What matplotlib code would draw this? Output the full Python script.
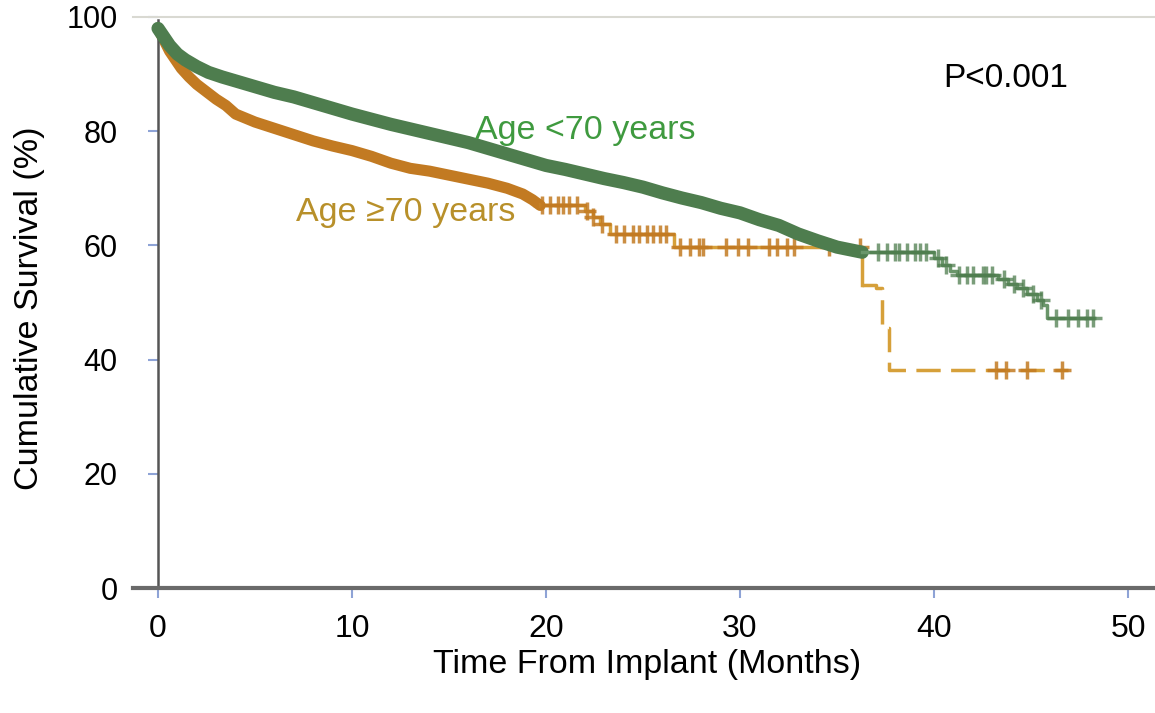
import matplotlib
matplotlib.use('Agg')
import matplotlib.pyplot as plt
import numpy as np

plt.rcParams['font.family'] = ['Liberation Sans', 'DejaVu Sans']

# ---- data ----
# Age <70 years
young_t = [0, 0.3, 0.6, 1.0, 1.4, 2.0, 2.6, 3.3, 4.0, 5.0, 6.0, 7.0, 8.0, 9.0, 10.0,
           11.0, 12.0, 13.0, 14.0, 15.0, 16.0, 17.0, 18.0, 19.0, 20.0, 21.0, 22.0,
           23.0, 24.0, 25.0, 26.0, 27.0, 28.0, 29.0, 30.0, 31.0, 32.0, 33.0, 34.0,
           35.0, 36.3, 40.0, 40.4, 40.8, 41.2, 43.3, 43.8, 44.3, 44.8, 45.3, 45.6,
           45.8, 48.2]
young_s = [98, 96.5, 95, 93.5, 92.5, 91.3, 90.3, 89.5, 88.8, 87.8, 86.8, 86.0, 85.0,
           84.0, 83.0, 82.1, 81.2, 80.4, 79.6, 78.8, 78.0, 77.0, 76.0, 75.0, 74.0,
           73.3, 72.5, 71.7, 71.0, 70.2, 69.2, 68.3, 67.5, 66.5, 65.7, 64.5, 63.5,
           62.0, 60.8, 59.7, 58.8, 57.8, 56.5, 55.5, 54.8, 54.2, 53.2, 52.5, 51.5,
           50.5, 49.5, 47.3, 47.3]
young_censor = [37.1, 37.6, 38.0, 38.2, 38.6, 39.0, 39.3, 39.6, 40.2, 40.6, 41.3,
                41.7, 42.0, 42.5, 42.7, 43.0, 43.6, 44.1, 44.6, 45.1, 45.5, 46.3,
                46.9, 47.4, 47.9, 48.2]

# Age >=70 years
old_t = [0, 0.3, 0.6, 0.9, 1.2, 1.6, 2.0, 2.5, 3.0, 3.5, 4.0, 5.0, 6.0, 7.0, 8.0,
         9.0, 10.0, 11.0, 12.0, 13.0, 14.0, 15.0, 16.0, 17.0, 18.0, 18.8, 19.3,
         19.7, 22.0, 22.4, 22.8, 23.3, 26.6, 36.3, 37.0, 37.3, 37.7, 46.9]
old_s = [98, 96, 94, 92.5, 91, 89.5, 88.2, 86.9, 85.6, 84.5, 83, 81.6, 80.5, 79.4,
         78.3, 77.4, 76.6, 75.6, 74.4, 73.5, 73.0, 72.3, 71.6, 70.9, 70.0, 69.0,
         68.0, 67.0, 66.0, 65.0, 63.8, 62.0, 59.7, 53.0, 52.5, 45.5, 38.2, 38.2]
old_censor = [19.8, 20.2, 20.6, 20.9, 21.2, 21.6, 22.1, 22.4, 22.9, 23.6, 24.0,
              24.5, 24.8, 25.2, 25.5, 25.9, 26.2, 26.9, 27.4, 27.9, 28.1, 29.3,
              29.9, 30.4, 31.5, 31.9, 32.4, 32.8, 34.6, 36.2, 43.2, 43.7, 44.8, 46.6]

x_ticks = [0, 10, 20, 30, 40, 50]
y_ticks = [0, 20, 40, 60, 80, 100]

# ---- styles ----
GREEN = '#4e7d4e'
GREEN_M = '#6a966a'
ORANGE = '#c27a22'
GOLD = '#d6a03a'
TXT_GREEN = '#3f9a3f'
TXT_GOLD = '#b8902a'


def surv_at(t_arr, s_arr, times):
    t_arr = np.asarray(t_arr)
    s_arr = np.asarray(s_arr)
    idx = np.searchsorted(t_arr, np.asarray(times), side='right') - 1
    return s_arr[np.clip(idx, 0, len(s_arr) - 1)]


fig = plt.figure(figsize=(11.55, 7.13), dpi=100)
ax = fig.add_axes([133 / 1155, 1 - 588 / 713, (1155 - 133) / 1155, (588 - 17) / 713])
ax.set_xlim(-1.29, 51.39)
ax.set_ylim(0, 100)

yt = np.array(young_t); ys = np.array(young_s)
ot = np.array(old_t); os_ = np.array(old_s)

# young: dense band until 36.3, thin afterwards
k = int(np.where(yt == 36.3)[0][0])
ax.plot(yt[:k + 1], ys[:k + 1], color=GREEN, lw=9.5,
        solid_capstyle='round', solid_joinstyle='round', zorder=3)
ax.plot(yt[k:], ys[k:], drawstyle='steps-post', color=GREEN_M, lw=2.5, zorder=3)
ax.plot(young_censor, surv_at(yt, ys, young_censor), ls='none', marker='+',
        ms=13, mew=2.5, color=GREEN, alpha=0.75, zorder=4)

# old: dense band until 19.7, thin solid to 36.3, dashed afterwards
j = int(np.where(ot == 19.7)[0][0])
m = int(np.where(ot == 36.3)[0][0])
ax.plot(ot[:j + 1], os_[:j + 1], color=ORANGE, lw=8,
        solid_capstyle='round', solid_joinstyle='round', zorder=2)
ax.plot(ot[j:m + 1], os_[j:m + 1], drawstyle='steps-post', color=GOLD, lw=2.5, zorder=2)
ax.plot(ot[m:], os_[m:], drawstyle='steps-post', color=GOLD, lw=2.5,
        ls=(0, (7, 3)), zorder=2)
ax.plot(old_censor, surv_at(ot, os_, old_censor), ls='none', marker='+',
        ms=13, mew=2.5, color=ORANGE, alpha=0.85, zorder=2)

# axes styling
ax.spines['right'].set_visible(False)
ax.spines['top'].set_color('#d9d9d2')
ax.spines['top'].set_linewidth(1.5)
ax.spines['left'].set_position(('data', 0))
ax.spines['left'].set_bounds(0, 99.4)
ax.spines['left'].set_color('#555555')
ax.spines['left'].set_linewidth(1.8)
ax.spines['bottom'].set_color('#6a6a6a')
ax.spines['bottom'].set_linewidth(3)

ax.set_xticks(x_ticks)
ax.set_yticks(y_ticks)
ax.tick_params(axis='both', direction='out', length=7, width=1.5, color='#8ea3d6',
               labelcolor='black')
ax.tick_params(axis='x', pad=12, labelsize=23)
ax.tick_params(axis='y', pad=22, labelsize=22)

fig.text(647 / 1155, 1 - 664 / 713, 'Time From Implant (Months)', fontsize=24.5,
         ha='center', va='center')
fig.text(30 / 1155, 1 - 308 / 713, 'Cumulative Survival (%)', fontsize=24.5,
         rotation=90, ha='center', va='center')

ax.text(43.7, 89.3, 'P<0.001', fontsize=24, ha='center', va='center', color='black')
ax.text(22.0, 80.2, 'Age <70 years', fontsize=24.5, ha='center', va='center', color=TXT_GREEN)
ax.text(12.76, 65.7, 'Age \u226570 years', fontsize=24.5, ha='center', va='center', color=TXT_GOLD)

fig.savefig('out.png', dpi=100)
